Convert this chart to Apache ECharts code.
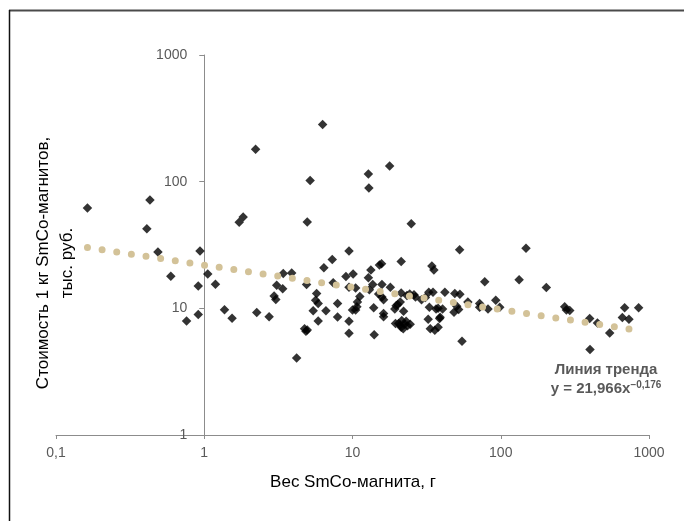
<!DOCTYPE html>
<html>
<head>
<meta charset="utf-8">
<script src="https://cdn.jsdelivr.net/npm/echarts@6/dist/echarts.min.js"></script>
<style>
  html, body { margin: 0; padding: 0; background: #ffffff; }
  #chart { width: 684px; height: 521px; }
</style>
</head>
<body>
<div id="chart"></div>
<script>
// ---- Data ----
const weightX = [
  0.163, 0.43, 0.41, 0.487, 0.595, 0.936, 0.911, 0.911, 0.76,
  1.056, 1.19, 1.37, 1.54, 1.72, 1.83, 2.22, 2.26, 2.74, 2.96, 3.04, 3.08, 3.38, 3.41, 3.89,
  4.2, 4.75, 4.85, 4.95, 4.95, 5.18, 4.9, 5.73, 5.64, 5.87, 5.43, 6.62, 5.87, 6.29, 6.41,
  7.3, 7.41, 7.93, 7.93, 9.03, 9.47, 9.47, 9.47, 9.47, 10.1, 10.0, 10.5, 11.2, 10.8, 10.7, 10.5,
  12.8, 12.9, 12.8, 13.3, 13.7, 13.0, 13.9, 14.0, 15.0, 15.2, 15.7, 15.8, 15.8, 16.2, 16.2, 16.2,
  17.8, 18.0, 19.3, 19.7, 20.2, 21.0, 21.3, 21.3, 22.1,
  19.5, 20.5, 21.3, 22.5, 21.0, 22.0, 23.5, 24.5, 21.5, 23.0,
  24.9, 23.3, 24.3, 26.0, 26.6, 29.2, 31.0, 33.0, 32.4, 32.7, 34.9, 34.3, 35.4, 33.5, 35.9,
  36.6, 37.8, 38.7, 37.8, 39.0, 40.5, 42.0,
  48.4, 49.0, 50.5, 52.0, 52.8, 53.0, 54.8, 60.0, 72.0, 72.0, 78.0, 82.0, 92.5, 98.5,
  133, 148, 203, 270, 277, 292, 398, 400, 449, 543, 661, 685, 732, 851
];
const priceY = [
  62, 71.5, 42.5, 27.9, 17.9, 28.4, 15.0, 8.95, 7.95,
  18.7, 15.5, 9.75, 8.35, 47.8, 52.5, 180, 9.25, 8.58, 12.5, 11.75, 15.2, 14.3, 18.8, 19.0,
  4.06, 6.9, 6.6, 6.75, 48, 102, 15.4, 13.1, 11.6, 10.9, 9.55, 9.55, 7.96, 283, 20.9,
  24.3, 15.9, 10.9, 8.55, 17.8, 28.3, 14.7, 7.91, 6.36, 18.7, 9.72, 14.5, 12.4, 11.2, 10.3, 9.72,
  115, 89, 17.4, 20.1, 15.4, 14.0, 10.1, 6.2, 13.0, 22.0, 22.5, 15.4, 12.3, 11.7, 9.1, 8.6,
  133, 14.7, 9.9, 10.5, 10.7, 11.2, 23.4, 13.2, 9.5,
  7.6, 7.6, 7.1, 7.5, 7.4, 6.9, 7.3, 7.5, 8.0, 7.9,
  46.5, 12.6, 13.0, 12.8, 12.3, 11.7, 12.2, 10.2, 8.2, 13.4, 13.4, 21.6, 20.1, 6.9, 6.7,
  9.9, 10.0, 8.3, 7.1, 8.5, 9.9, 13.4,
  9.3, 13.1, 10.4, 9.8, 29.0, 12.9, 5.5, 11.2, 10.9, 10.2, 16.2, 9.9, 11.6, 10.2,
  16.8, 29.8, 14.6, 10.3, 9.7, 9.6, 8.3, 4.73, 7.67, 6.4, 8.47, 10.1, 8.2, 10.1
];
// Trendline endpoints (power trend as shown in the picture)
const trendX = [0.163, 905];
const trendY = [30.2, 6.63];

const xTickValues = [0.1, 1, 10, 100, 1000];
const xTickLabels = ['0,1', '1', '10', '100', '1000'];
const yTickValues = [1, 10, 100, 1000];
const yTickLabels = ['1', '10', '100', '1000'];

const xTitle = 'Вес SmCo-магнита, г';
const yTitle = 'Стоимость 1 кг SmCo-магнитов,\nтыс. руб.';
const trendTitle = 'Линия тренда';
const trendEqMain = 'y = 21,966x';
const trendEqSup = '\u22120,176';

// ---- Build ----
const scatterData = weightX.map((x, i) => [x, priceY[i]]);
const trendData = trendX.map((x, i) => [x, trendY[i]]);

function lookup(values, labels, v) {
  let best = 0, bd = Infinity;
  values.forEach((t, i) => {
    const d = Math.abs(Math.log10(t) - Math.log10(v));
    if (d < bd) { bd = d; best = i; }
  });
  return bd < 0.01 ? labels[best] : '';
}

const FONT = '"Liberation Sans", Arial, sans-serif';
const axisGray = '#8c8c8c';
const labelGray = '#595959';

const chart = echarts.init(document.getElementById('chart'), null, { renderer: 'canvas' });

const gridLeft = 56, gridRight = 35, gridTop = 55, gridBottom = 86;
const plotW = 684 - gridLeft - gridRight;
// y axis crosses the x axis at x = 1 (one decade to the right of 0.1 out of four)
const yAxisOffset = -plotW * (Math.log10(1) - Math.log10(0.1)) / (Math.log10(1000) - Math.log10(0.1));

chart.setOption({
  animation: false,
  backgroundColor: '#ffffff',
  grid: { left: gridLeft, right: gridRight, top: gridTop, bottom: gridBottom, containLabel: false },
  xAxis: {
    type: 'log', logBase: 10, min: 0.1, max: 1000,
    axisLine: { show: true, lineStyle: { color: axisGray, width: 1 } },
    axisTick: { show: true, length: 4, lineStyle: { color: axisGray } },
    minorTick: { show: false },
    splitLine: { show: false },
    axisLabel: {
      color: labelGray, fontFamily: FONT, fontSize: 14, margin: 11,
      formatter: v => lookup(xTickValues, xTickLabels, v)
    }
  },
  yAxis: {
    type: 'log', logBase: 10, min: 1, max: 1000,
    position: 'left', offset: yAxisOffset,
    axisLine: { show: true, lineStyle: { color: axisGray, width: 1 } },
    axisTick: { show: true, length: 5, lineStyle: { color: axisGray } },
    minorTick: { show: false },
    splitLine: { show: false },
    axisLabel: {
      color: labelGray, fontFamily: FONT, fontSize: 14, margin: 17,
      formatter: v => lookup(yTickValues, yTickLabels, v)
    }
  },
  series: [
    {
      type: 'scatter',
      data: scatterData,
      symbol: 'diamond',
      symbolSize: 9.5,
      itemStyle: { color: '#000000' },
      z: 2
    },
    {
      type: 'line',
      data: trendData,
      symbol: 'none',
      lineStyle: { color: '#D3C298', width: 7, type: [0, 14.8], cap: 'round' },
      z: 3
    }
  ],
  graphic: [
    { type: 'line', shape: { x1: 9, y1: 10.5, x2: 684, y2: 10.5 }, style: { stroke: '#4a4a4a', lineWidth: 2 } },
    { type: 'line', shape: { x1: 9.5, y1: 10, x2: 9.5, y2: 521 }, style: { stroke: '#111111', lineWidth: 1.5 } },
    {
      type: 'text', x: 55, y: 263, rotation: Math.PI / 2,
      style: { text: yTitle, fontFamily: FONT, fontSize: 17, fill: '#000000',
               textAlign: 'center', textVerticalAlign: 'middle', lineHeight: 24 }
    },
    {
      type: 'text', x: 353, y: 482,
      style: { text: xTitle, fontFamily: FONT, fontSize: 17, fill: '#000000',
               textAlign: 'center', textVerticalAlign: 'middle' }
    },
    {
      type: 'text', x: 606, y: 370,
      style: { text: trendTitle, fontFamily: FONT, fontSize: 15, fontWeight: 'bold', fill: labelGray,
               textAlign: 'center', textVerticalAlign: 'middle' }
    },
    {
      type: 'text', x: 606, y: 389,
      style: {
        text: '{m|' + trendEqMain + '}{s|' + trendEqSup + '}',
        textAlign: 'center', textVerticalAlign: 'middle',
        rich: {
          m: { fontFamily: FONT, fontSize: 15, fontWeight: 'bold', fill: labelGray, lineHeight: 18 },
          s: { fontFamily: FONT, fontSize: 10, fontWeight: 'bold', fill: labelGray, verticalAlign: 'top', lineHeight: 18, padding: [0, 0, 6, 0] }
        }
      }
    }
  ]
});
</script>
</body>
</html>
